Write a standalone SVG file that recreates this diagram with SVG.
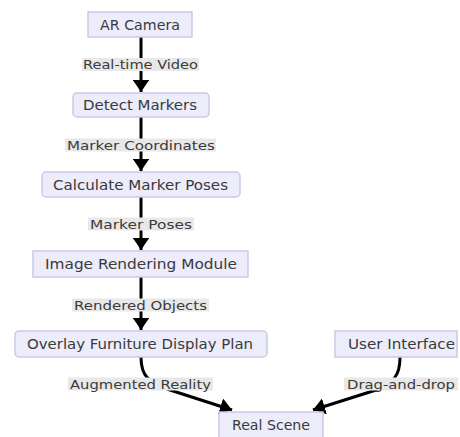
<svg xmlns="http://www.w3.org/2000/svg" width="460" height="437" viewBox="0 0 460 437">
<defs>
<style>
.node rect{fill:#ececfb;stroke:#c9c9e6;stroke-width:1.5}
.node text{font-family:"DejaVu Sans",Verdana,sans-serif;font-size:13.5px;fill:#3a3a3a;text-anchor:middle;dominant-baseline:central}
.edge{fill:none;stroke:#000;stroke-width:3}
.lbl rect{fill:#e8e8e8}
.lbl text{font-family:"DejaVu Sans",Verdana,sans-serif;font-size:13px;fill:#3a3a3a;text-anchor:middle;dominant-baseline:central}
</style>
<marker id="arr" viewBox="0 0 10 10" refX="10" refY="5" markerWidth="4" markerHeight="5.5" orient="auto" markerUnits="strokeWidth" preserveAspectRatio="none">
<path d="M0,0 L10,5 L0,10 z" fill="#000"/>
</marker>
</defs>
<rect width="460" height="437" fill="#fff"/>
<g id="connectors">
<path class="edge" d="M141,37 L141,92" marker-end="url(#arr)"/>
<path class="edge" d="M141,117 L141,171" marker-end="url(#arr)"/>
<path class="edge" d="M141,197 L141,250" marker-end="url(#arr)"/>
<path class="edge" d="M141,277 L141,330" marker-end="url(#arr)"/>
<path class="edge" d="M141,357 C141,376 148,382 170,390 L232,410" marker-end="url(#arr)"/>
<path class="edge" d="M400,357 C400,376 394,382 376,390 L313,410" marker-end="url(#arr)"/>
</g>
<g id="edge-labels">
<g class="lbl"><rect x="82" y="58" width="117" height="13"/><text x="140.5" y="64.5" textLength="115" lengthAdjust="spacingAndGlyphs">Real-time Video</text></g>
<g class="lbl"><rect x="65" y="138.5" width="151" height="13"/><text x="141" y="145" textLength="148" lengthAdjust="spacingAndGlyphs">Marker Coordinates</text></g>
<g class="lbl"><rect x="88" y="217.5" width="106" height="13"/><text x="141" y="224" textLength="102" lengthAdjust="spacingAndGlyphs">Marker Poses</text></g>
<g class="lbl"><rect x="72" y="298.5" width="137" height="13"/><text x="140.5" y="305" textLength="133" lengthAdjust="spacingAndGlyphs">Rendered Objects</text></g>
<g class="lbl"><rect x="68" y="377.5" width="145" height="13"/><text x="140.5" y="384" textLength="141" lengthAdjust="spacingAndGlyphs">Augmented Reality</text></g>
<g class="lbl"><rect x="344" y="377.5" width="114" height="13"/><text x="401" y="384" textLength="108" lengthAdjust="spacingAndGlyphs">Drag-and-drop</text></g>
</g>
<g id="ar-camera" class="node"><rect x="88" y="12" width="104" height="25"/><text x="140" y="24.5" textLength="80" lengthAdjust="spacingAndGlyphs">AR Camera</text></g>
<g id="detect-markers" class="node"><rect x="73" y="93" width="136" height="24" rx="4"/><text x="140" y="105" textLength="114" lengthAdjust="spacingAndGlyphs">Detect Markers</text></g>
<g id="calculate-marker-poses" class="node"><rect x="42" y="172" width="198" height="25" rx="4"/><text x="140.5" y="184.5" textLength="175" lengthAdjust="spacingAndGlyphs">Calculate Marker Poses</text></g>
<g id="image-rendering-module" class="node"><rect x="33" y="251" width="215" height="26"/><text x="141" y="264" textLength="192" lengthAdjust="spacingAndGlyphs">Image Rendering Module</text></g>
<g id="overlay-furniture" class="node"><rect x="15" y="331" width="252" height="26" rx="4"/><text x="140" y="344" textLength="226" lengthAdjust="spacingAndGlyphs">Overlay Furniture Display Plan</text></g>
<g id="user-interface" class="node"><rect x="335" y="331" width="122" height="26"/><text x="401.5" y="344" textLength="107" lengthAdjust="spacingAndGlyphs">User Interface</text></g>
<g id="real-scene" class="node"><rect x="219" y="412" width="104" height="32"/><text x="271" y="425" textLength="78" lengthAdjust="spacingAndGlyphs">Real Scene</text></g>
</svg>
